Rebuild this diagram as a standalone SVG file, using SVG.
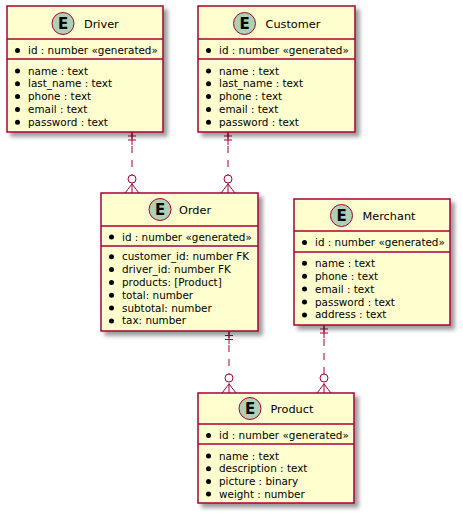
<svg xmlns="http://www.w3.org/2000/svg" width="463" height="517" viewBox="0 0 463 517">
<defs>
<filter id="sh" x="-10%" y="-10%" width="130%" height="130%">
<feGaussianBlur in="SourceAlpha" stdDeviation="2"/>
<feOffset dx="4" dy="4" result="b"/>
<feComponentTransfer><feFuncA type="linear" slope="0.4"/></feComponentTransfer>
<feMerge><feMergeNode/><feMergeNode in="SourceGraphic"/></feMerge>
</filter>
</defs>
<style>
.box{fill:#FEFECE;stroke:#A80036;stroke-width:1.5;filter:url(#sh)}
.sep{stroke:#A80036;stroke-width:1.5}
.ec{fill:#ADD1B2;stroke:#A80036;stroke-width:1}
.el{font-family:"DejaVu Sans",sans-serif;font-size:15px;font-weight:bold;fill:#000;text-anchor:middle}
.tt{font-family:"DejaVu Sans",sans-serif;font-size:11.3px;fill:#000}
.at{font-family:"DejaVu Sans",sans-serif;font-size:10.4px;fill:#000}
.bu{fill:#000}
.ln{stroke:#A80036;stroke-width:1;fill:none}
.dash{stroke-dasharray:7,7}
.oc{fill:#FFFFFF;stroke:#A80036;stroke-width:1}
</style>

<g id="connectors">
<!-- Driver to Order -->
<line class="ln dash" x1="132" y1="132" x2="132" y2="175"/>
<line class="ln" x1="132" y1="132" x2="132" y2="145"/>
<line class="ln" x1="128" y1="136" x2="136" y2="136"/>
<line class="ln" x1="128" y1="140" x2="136" y2="140"/>
<circle class="oc" cx="132" cy="179" r="4"/>
<path class="ln" d="M125,193 L132,184 L139,193 M132,183 L132,193"/>
<!-- Customer to Order -->
<line class="ln dash" x1="228" y1="132" x2="228" y2="175"/>
<line class="ln" x1="228" y1="132" x2="228" y2="145"/>
<line class="ln" x1="224" y1="136" x2="232" y2="136"/>
<line class="ln" x1="224" y1="140" x2="232" y2="140"/>
<circle class="oc" cx="228" cy="179" r="4"/>
<path class="ln" d="M221,193 L228,184 L235,193 M228,183 L228,193"/>
<!-- Order to Product -->
<line class="ln dash" x1="229" y1="331" x2="229" y2="374"/>
<line class="ln" x1="229" y1="331" x2="229" y2="344"/>
<line class="ln" x1="225" y1="335.5" x2="233" y2="335.5"/>
<line class="ln" x1="225" y1="339.5" x2="233" y2="339.5"/>
<circle class="oc" cx="229" cy="378" r="4"/>
<path class="ln" d="M222,393 L229,384 L236,393 M229,383 L229,393"/>
<!-- Merchant to Product -->
<line class="ln dash" x1="324" y1="325" x2="324" y2="374"/>
<line class="ln" x1="324" y1="325" x2="324" y2="338"/>
<line class="ln" x1="320" y1="329" x2="328" y2="329"/>
<line class="ln" x1="320" y1="333" x2="328" y2="333"/>
<circle class="oc" cx="324" cy="378" r="4"/>
<path class="ln" d="M317,393 L324,384 L331,393 M324,383 L324,393"/>
</g>

<g id="driver">
<rect class="box" x="7" y="6" width="156" height="126"/>
<circle class="ec" cx="63" cy="23.5" r="11"/>
<text class="el" x="63" y="29">E</text>
<text class="tt" x="84" y="27.5">Driver</text>
<line class="sep" x1="7" y1="39" x2="163" y2="39"/>
<circle class="bu" cx="17.5" cy="50.5" r="2.5"/>
<text class="at" x="28" y="54">id : number «generated»</text>
<line class="sep" x1="7" y1="59" x2="163" y2="59"/>
<circle class="bu" cx="17.5" cy="71" r="2.5"/>
<text class="at" x="28" y="74.5">name : text</text>
<circle class="bu" cx="17.5" cy="83.8" r="2.5"/>
<text class="at" x="28" y="87.3">last_name : text</text>
<circle class="bu" cx="17.5" cy="96.6" r="2.5"/>
<text class="at" x="28" y="100.1">phone : text</text>
<circle class="bu" cx="17.5" cy="109.4" r="2.5"/>
<text class="at" x="28" y="112.9">email : text</text>
<circle class="bu" cx="17.5" cy="122.2" r="2.5"/>
<text class="at" x="28" y="125.7">password : text</text>
</g>

<g id="customer">
<rect class="box" x="198" y="6" width="157" height="126"/>
<circle class="ec" cx="244.5" cy="23.5" r="11"/>
<text class="el" x="244.5" y="29">E</text>
<text class="tt" x="265.5" y="27.5">Customer</text>
<line class="sep" x1="198" y1="39" x2="355" y2="39"/>
<circle class="bu" cx="208.5" cy="50.5" r="2.5"/>
<text class="at" x="219" y="54">id : number «generated»</text>
<line class="sep" x1="198" y1="59" x2="355" y2="59"/>
<circle class="bu" cx="208.5" cy="71" r="2.5"/>
<text class="at" x="219" y="74.5">name : text</text>
<circle class="bu" cx="208.5" cy="83.8" r="2.5"/>
<text class="at" x="219" y="87.3">last_name : text</text>
<circle class="bu" cx="208.5" cy="96.6" r="2.5"/>
<text class="at" x="219" y="100.1">phone : text</text>
<circle class="bu" cx="208.5" cy="109.4" r="2.5"/>
<text class="at" x="219" y="112.9">email : text</text>
<circle class="bu" cx="208.5" cy="122.2" r="2.5"/>
<text class="at" x="219" y="125.7">password : text</text>
</g>

<g id="order">
<rect class="box" x="101" y="193" width="157" height="138"/>
<circle class="ec" cx="160" cy="209.5" r="11"/>
<text class="el" x="160" y="215">E</text>
<text class="tt" x="179" y="214">Order</text>
<line class="sep" x1="101" y1="226" x2="258" y2="226"/>
<circle class="bu" cx="111.5" cy="237" r="2.5"/>
<text class="at" x="122" y="240.5">id : number «generated»</text>
<line class="sep" x1="101" y1="246" x2="258" y2="246"/>
<circle class="bu" cx="111.5" cy="256.7" r="2.5"/>
<text class="at" x="122" y="260.2">customer_id: number FK</text>
<circle class="bu" cx="111.5" cy="269.55" r="2.5"/>
<text class="at" x="122" y="273.05">driver_id: number FK</text>
<circle class="bu" cx="111.5" cy="282.4" r="2.5"/>
<text class="at" x="122" y="285.9">products: [Product]</text>
<circle class="bu" cx="111.5" cy="295.25" r="2.5"/>
<text class="at" x="122" y="298.75">total: number</text>
<circle class="bu" cx="111.5" cy="308.1" r="2.5"/>
<text class="at" x="122" y="311.6">subtotal: number</text>
<circle class="bu" cx="111.5" cy="320.95" r="2.5"/>
<text class="at" x="122" y="324.45">tax: number</text>
</g>

<g id="merchant">
<rect class="box" x="294" y="199" width="156" height="126"/>
<circle class="ec" cx="341.5" cy="215.5" r="11"/>
<text class="el" x="341.5" y="221">E</text>
<text class="tt" x="362.5" y="220">Merchant</text>
<line class="sep" x1="294" y1="231" x2="450" y2="231"/>
<circle class="bu" cx="304.5" cy="242.5" r="2.5"/>
<text class="at" x="315" y="246">id : number «generated»</text>
<line class="sep" x1="294" y1="252" x2="450" y2="252"/>
<circle class="bu" cx="304.5" cy="263.3" r="2.5"/>
<text class="at" x="315" y="266.8">name : text</text>
<circle class="bu" cx="304.5" cy="276.2" r="2.5"/>
<text class="at" x="315" y="279.7">phone : text</text>
<circle class="bu" cx="304.5" cy="289.1" r="2.5"/>
<text class="at" x="315" y="292.6">email : text</text>
<circle class="bu" cx="304.5" cy="302" r="2.5"/>
<text class="at" x="315" y="305.5">password : text</text>
<circle class="bu" cx="304.5" cy="314.9" r="2.5"/>
<text class="at" x="315" y="318.4">address : text</text>
</g>

<g id="product">
<rect class="box" x="198" y="393" width="156" height="110"/>
<circle class="ec" cx="250" cy="408.5" r="11"/>
<text class="el" x="250" y="414">E</text>
<text class="tt" x="270.5" y="413">Product</text>
<line class="sep" x1="198" y1="424" x2="354" y2="424"/>
<circle class="bu" cx="208.5" cy="435.5" r="2.5"/>
<text class="at" x="219" y="439">id : number «generated»</text>
<line class="sep" x1="198" y1="444" x2="354" y2="444"/>
<circle class="bu" cx="208.5" cy="456" r="2.5"/>
<text class="at" x="219" y="459.5">name : text</text>
<circle class="bu" cx="208.5" cy="468.7" r="2.5"/>
<text class="at" x="219" y="472.2">description : text</text>
<circle class="bu" cx="208.5" cy="481.4" r="2.5"/>
<text class="at" x="219" y="484.9">picture : binary</text>
<circle class="bu" cx="208.5" cy="494.1" r="2.5"/>
<text class="at" x="219" y="497.6">weight : number</text>
</g>
</svg>
